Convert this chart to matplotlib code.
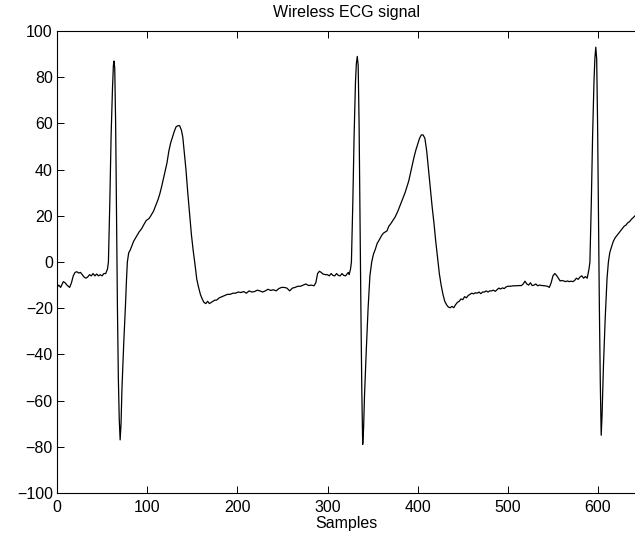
import matplotlib
matplotlib.use("Agg")
import matplotlib.pyplot as plt

plt.rcParams['font.family'] = ['Liberation Sans', 'DejaVu Sans']

# samples
samples = [
    0, 2, 4, 7, 9, 11, 14, 16, 18, 20, 22, 24, 26, 28, 30, 32, 34, 36, 38, 40,
    42, 44, 46, 48, 50, 52, 54, 56,
    57, 58.5, 60, 61.5, 62.5, 63.2, 64, 65, 66, 67, 68, 69, 70, 71, 72, 74, 76,
    77, 78, 79.5, 81, 83, 85, 88, 91, 94, 96, 99, 102, 104, 107, 109, 112, 114,
    116, 118, 120, 122, 124, 126, 128, 130, 132, 134, 136, 138, 139.5, 141, 143,
    145, 147, 149, 151, 153, 155, 157, 159, 161, 163, 165, 167, 169, 171, 173,
    175, 177, 180, 183, 186, 189, 192, 195, 198, 201, 204, 207, 210, 213, 216,
    219, 222, 225, 228, 231, 234, 237, 240, 243, 246, 249, 252, 255, 258, 261,
    264, 267, 270, 273, 276, 279, 282, 285, 287, 289, 291, 293, 295, 298, 300,
    302, 304, 306, 308, 310, 312, 314, 316, 318, 320, 322, 323, 324, 325.5,
    326.5, 328, 329.5, 331, 332, 333, 334, 335, 336, 337, 338, 339, 340, 341,
    343, 345, 347, 349, 351, 353, 355, 358, 360, 362, 364, 366, 368, 370, 372,
    375, 378, 380, 382, 384, 386, 388, 390, 392, 394, 396, 398, 400, 402, 404,
    406, 408, 410, 412, 414, 416, 418, 420, 422, 424, 426, 428, 430, 432, 434,
    436, 438, 440, 442, 444, 446, 448, 450, 452, 454, 456, 458, 460, 462, 464,
    466, 468, 470, 472, 474, 476, 478, 480, 482, 484, 486, 488, 490, 492, 494,
    496, 498, 500, 503, 506, 509, 512, 515, 517, 519, 521, 523, 525, 527, 529,
    531, 533, 535, 538, 541, 544, 546, 548, 550, 552, 554, 556, 558, 560, 562,
    564, 566, 568, 570, 572, 574, 576, 578, 580, 582, 584, 586, 588, 589, 590,
    591, 592.5, 594, 595.5, 596.5, 597.5, 598.5, 599.5, 600.5, 601.5, 602.5,
    603.5, 604.5, 606, 608, 610, 611.5, 613, 615, 617, 619, 621, 623, 625, 627,
    629, 631, 633, 635, 637, 639, 641,
]
ecg = [
    -11, -10, -11, -8.5, -9, -10, -11, -9, -6, -4.5, -4.2, -4.8, -4.5, -5.5,
    -6.5, -7, -6.5, -5.5, -6, -5, -6, -5.2, -6, -5.5, -6, -5, -5, -3,
    0, 25, 55, 75, 85, 87, 84, 60, 20, -20, -50, -68, -77, -70, -55, -35, -18,
    -8, 0, 4, 5, 7, 9, 11, 13, 14.5, 16, 18, 18.8, 20, 22, 24, 27, 29.5,
    32.6, 36, 39.5, 43, 48, 51.5, 54, 56.5, 58.5, 59, 59, 57, 54, 48, 40,
    30, 21, 12, 5, -1, -7.5, -11, -14, -16, -17.5, -18, -17, -18, -17.5, -17,
    -16.5, -16.5, -15.5, -15, -14.5, -14, -14, -13.5, -13.5, -13, -13.2, -12.8,
    -13.5, -12.5, -13, -12.8, -12.2, -12.5, -13, -12.5, -11.8, -12.3, -12,
    -12.5, -11.5, -11, -11, -11.3, -12.5, -11.3, -11, -10.5, -10.5, -10, -9.5,
    -10.2, -10, -10.3, -9, -5, -4, -4.5, -5.2, -5.5, -5.5, -6, -5, -5.8, -6,
    -5, -5.8, -6, -5, -5.8, -6, -5, -4.5, -5.5, -3,
    0, 25, 55, 78, 86, 89, 85, 60, 20, -20, -55, -79, -72, -58, -38, -20, -6,
    0, 3.5, 5.5, 8, 10, 11.5, 12.5, 13, 13.5, 15.5, 16.5, 17.7, 19.5, 22, 24,
    26, 28, 30, 32.5, 35, 38.5, 42, 45.5, 48.5, 51, 53.5, 55, 55, 53.5, 48,
    40, 32, 24, 17, 9, 2, -5, -10, -14, -17, -18.5, -19.5, -19.8, -19.2,
    -19.8, -18.5, -17.5, -17, -16, -16.3, -15, -15.5, -14.5, -14, -13.5, -13.8,
    -13.3, -13.5, -13, -13.7, -13, -13, -12.5, -13, -12.5, -12.5, -12.2, -12.7,
    -12, -11.3, -11.7, -11.2, -11.5, -10.8, -10.5, -10.5, -10.3, -10.3, -10.2,
    -10.2, -9.5, -8.3, -9.5, -10, -9, -10.2, -10, -9.5, -10.3, -10, -10.2,
    -10.3, -10.5, -11, -9, -6, -5, -5.8, -7, -8.2, -8, -8.2, -8.5, -8.2, -8.5,
    -8.3, -8.5, -8, -7, -7.5, -6.5, -6, -7, -6.3, -7, -5, -3,
    0, 25, 55, 78, 88, 93, 88, 60, 20, -20, -52, -75, -66, -45, -24, -7, 0, 4,
    6.6, 9, 10.5, 11.5, 12.5, 13.5, 14.5, 15.5, 16, 17, 17.5, 18.5, 19.2, 20,
]
x_ticks = [0, 100, 200, 300, 400, 500, 600]
y_ticks = [-100, -80, -60, -40, -20, 0, 20, 40, 60, 80, 100]

fig = plt.figure(figsize=(6.35, 5.41), dpi=100)
ax = fig.add_axes([0.0898, 0.0887, 0.9102, 0.854])
ax.plot(samples, ecg, color='black', lw=0.9)

ax.set_xlim(0, 641)
ax.set_ylim(-100, 100)
ax.set_xticks(x_ticks)
ax.set_yticks(y_ticks)
ax.spines['right'].set_visible(False)
for s in ['left', 'bottom', 'top']:
    ax.spines[s].set_linewidth(0.8)
ax.tick_params(direction='in', length=5, width=0.7, top=True, labelsize=11.5)
ax.tick_params(axis='x', pad=5)
ax.tick_params(axis='y', pad=3)

ax.set_title('Wireless ECG signal', fontsize=11.5, pad=10)
ax.set_xlabel('Samples', fontsize=11.5, labelpad=1)

fig.savefig('out.png', dpi=100)
